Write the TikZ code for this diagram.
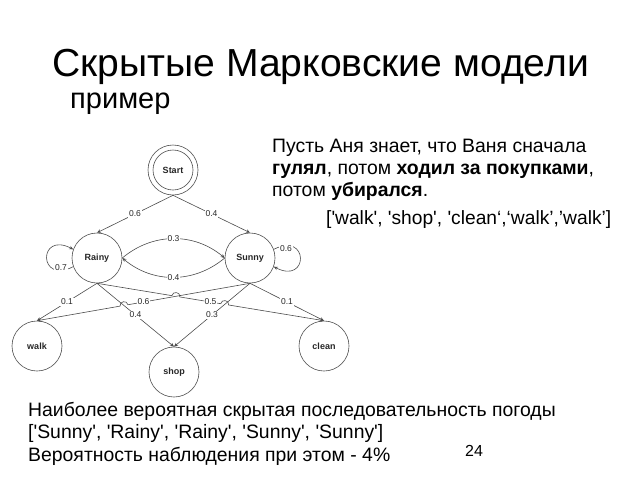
\documentclass[tikz,border=0pt]{standalone}
\usepackage{fontspec}
\setmainfont{Liberation Sans}
\usetikzlibrary{arrows.meta,calc}
\newcommand{\sq}{\textquotesingle}
\begin{document}
\begin{tikzpicture}[x=1pt,y=-1pt,
  state/.style={circle,draw=black!70,line width=0.6pt,minimum size=50pt,inner sep=0pt,font=\fontsize{9}{10}\selectfont\bfseries,text=black!85},
  edge/.style={draw=black!70,line width=0.6pt,-{Stealth[length=4pt,width=3.5pt]}},
  prob/.style={fill=white,inner sep=0.6pt,font=\fontsize{8.5}{9}\selectfont,text=black!85},
  hop/.style={bend left=90,looseness=1.6},
  hopr/.style={bend right=90,looseness=1.6},
  txt/.style={anchor=base west,inner sep=0pt}]
\useasboundingbox (0,0) rectangle (640,480);
% title
\node[txt,font=\fontsize{39.1}{44}\selectfont] (title) at (52,76) {Скрытые Марковские модели};
\node[txt,font=\fontsize{29}{32}\selectfont] (sub) at (70,108) {пример};
% states
\node[state] (start) at (173,170) {Start};
\draw[draw=black!70,line width=0.6pt] (start.center) circle[radius=20];
\node[state] (rainy) at (97,258) {Rainy};
\node[state] (sunny) at (250,258) {Sunny};
\node[state] (walk) at (37,346) {walk};
\node[state] (shop) at (174,372) {shop};
\node[state] (clean) at (324,346) {clean};
% transitions
\draw[edge] (start.south) -- node[prob]{0.6} (rainy.north);
\draw[edge] (start.south) -- node[prob]{0.4} (sunny.north);
\draw[edge] (rainy.east) to[bend left=40] node[prob]{0.3} (sunny.west);
\draw[edge] (sunny.west) to[bend left=40] node[prob]{0.4} (rainy.east);
\draw[edge] (rainy.200) .. controls (38,285) and (38,231) .. (rainy.160);
\node[prob] (l07) at (61,268) {0.7};
\draw[edge] (sunny.20) .. controls (309,231) and (309,285) .. (sunny.-20);
\node[prob] (l06) at (286,249) {0.6};
% emissions
\draw[edge] (rainy.south) -- node[prob]{0.1} (walk.north);
\draw[edge] (rainy.south) -- node[prob]{0.4} (shop.north);
\draw[edge] (sunny.south) -- node[prob]{0.3} (shop.north);
\draw[edge] (sunny.south) -- node[prob]{0.1} (clean.north);
% Sunny -> walk, hops over Rainy -> shop
\draw[edge] (sunny.south) -- ($(sunny.south)!0.573!(walk.north)$)
  to[hopr] ($(sunny.south)!0.610!(walk.north)$) -- (walk.north);
\node[prob] (l06b) at ($(sunny.south)!0.5!(walk.north)$) {0.6};
% Rainy -> clean, hops over Sunny -> walk and Sunny -> shop
\draw[edge] (rainy.south) -- ($(rainy.south)!0.330!(clean.north)$)
  to[hop] ($(rainy.south)!0.365!(clean.north)$)
  -- ($(rainy.south)!0.545!(clean.north)$)
  to[hop] ($(rainy.south)!0.580!(clean.north)$) -- (clean.north);
\node[prob] (l05) at ($(rainy.south)!0.5!(clean.north)$) {0.5};
% right text
\node[txt,font=\fontsize{19.4}{22}\selectfont] (t1) at (272,152) {Пусть Аня знает, что Ваня сначала};
\node[txt,font=\fontsize{19.4}{22}\selectfont] (t2) at (272,174) {\textbf{гулял}, потом \textbf{ходил за покупками},};
\node[txt,font=\fontsize{19.4}{22}\selectfont] (t3) at (272,196) {потом \textbf{убирался}.};
\node[txt,font=\fontsize{19.2}{22}\selectfont] (t4) at (326,224) {[\sq walk\sq, \sq shop\sq, \sq clean‘,‘walk’,’walk’]};
% bottom text
\node[txt,font=\fontsize{19.4}{22}\selectfont] (b1) at (28,416) {Наиболее вероятная скрытая последовательность погоды};
\node[txt,font=\fontsize{19.4}{22}\selectfont] (b2) at (28,438) {[\sq Sunny\sq, \sq Rainy\sq, \sq Rainy\sq, \sq Sunny\sq, \sq Sunny\sq]};
\node[txt,font=\fontsize{19.4}{22}\selectfont] (b3) at (28,461) {Вероятность наблюдения при этом - 4\%};
\node[txt,font=\fontsize{16}{18}\selectfont] (num) at (465,456) {24};
\end{tikzpicture}
\end{document}
